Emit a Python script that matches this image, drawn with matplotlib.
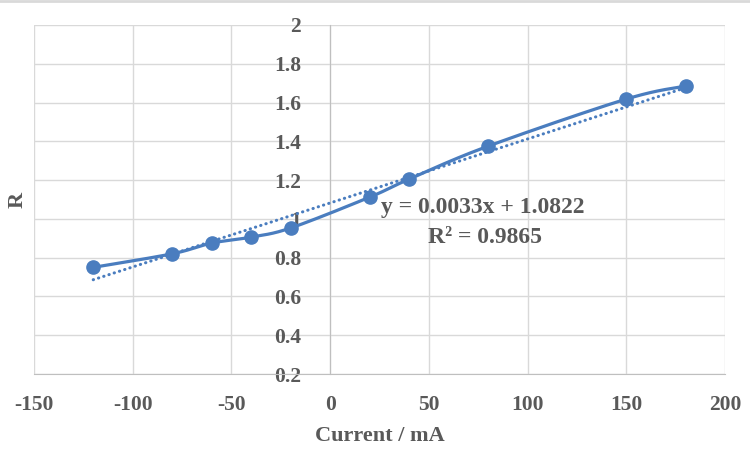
import numpy as np
import matplotlib
matplotlib.use('Agg')
import matplotlib.pyplot as plt
from matplotlib.lines import Line2D

plt.rcParams['axes.unicode_minus'] = False

# data
current_ma = [-120, -80, -60, -40, -20, 20, 40, 80, 150, 180]
r_values = [0.75, 0.82, 0.875, 0.906, 0.953, 1.112, 1.205, 1.375, 1.618, 1.685]
slope = 0.0033
intercept = 1.0822
eq_text = 'y = 0.0033x + 1.0822'
r2_text = 'R² = 0.9865'
x_ticks = [-150, -100, -50, 0, 50, 100, 150, 200]
y_ticks = [0.2, 0.4, 0.6, 0.8, 1.0, 1.2, 1.4, 1.6, 1.8, 2.0]
y_tick_labels = ['0.2', '0.4', '0.6', '0.8', '1', '1.2', '1.4', '1.6', '1.8', '2']

blue = '#4a7dbf'
txt = '#595959'
font = 'Liberation Serif'

fig = plt.figure(figsize=(7.5, 4.51), dpi=100)
ax = fig.add_axes([34/750, 1-374/451, 691/750, 349/451])
ax.set_xlim(-150, 200)
ax.set_ylim(0.2, 2.0)

# excel style smoothing (bezier through the points), done in pixel-ish space
sx = 691/350.0
sy = 349/1.8
P = np.column_stack([np.array(current_ma)*sx, np.array(r_values)*sy])
n = len(P)
curve = []
t = np.linspace(0, 1, 30)
for i in range(n-1):
    p0 = P[i]
    p3 = P[i+1]
    pm = P[i-1] if i > 0 else P[i]
    pp = P[i+2] if i+2 < n else P[i+1]
    c1 = p0 + (p3 - pm)/6.0
    c2 = p3 - (pp - p0)/6.0
    for tt in t:
        b = ((1-tt)**3)*p0 + 3*((1-tt)**2)*tt*c1 + 3*(1-tt)*tt**2*c2 + tt**3*p3
        curve.append(b)
curve = np.array(curve)
ax.plot(curve[:, 0]/sx, curve[:, 1]/sy, color=blue, lw=2.3, zorder=3, solid_capstyle='round')
ax.plot(current_ma, r_values, 'o', color=blue, ms=9.5, zorder=4)

# linear trendline
xt = np.array([current_ma[0], current_ma[-1]])
ax.plot(xt, slope*xt + intercept, color=blue, lw=2.2, ls=(0, (0.1, 1.7)),
        dash_capstyle='round', zorder=3)

ax.set_xticks(x_ticks)
ax.set_yticks(y_ticks)
ax.set_yticklabels(y_tick_labels)
ax.grid(True, color='#d9d9d9', lw=1.0, zorder=0)
ax.set_axisbelow(True)
for s in ['top', 'right']:
    ax.spines[s].set_visible(False)
ax.spines['left'].set_position(('data', 0))
ax.spines['left'].set_color('#bfbfbf')
ax.spines['bottom'].set_color('#bfbfbf')
ax.tick_params(length=0)
ax.tick_params(axis='y', pad=21)
ax.tick_params(axis='x', pad=15)
for lab in ax.get_xticklabels() + ax.get_yticklabels():
    lab.set_fontfamily(font)
    lab.set_fontweight('bold')
    lab.set_fontsize(15.5)
    lab.set_color(txt)

ax.text(77.5, 1.061, eq_text, ha='center', va='center', fontsize=17,
        fontfamily=font, fontweight='bold', color=txt, zorder=5)
ax.text(78.5, 0.906, r2_text, ha='center', va='center', fontsize=17,
        fontfamily=font, fontweight='bold', color=txt, zorder=5)

fig.text(379.5/750, 1-436/451, 'Current / mA', ha='center', va='center', fontsize=16,
         fontfamily=font, fontweight='bold', color=txt)
fig.text(18/750, 1-200/451, 'R', ha='center', va='center', rotation=90, fontsize=16,
         fontfamily=font, fontweight='bold', color=txt)

# thin grey border at the top of the image
fig.add_artist(Line2D([0, 1], [1-1/451, 1-1/451], color='#d9d9d9', lw=2, transform=fig.transFigure))

fig.savefig('out.png', dpi=100)
